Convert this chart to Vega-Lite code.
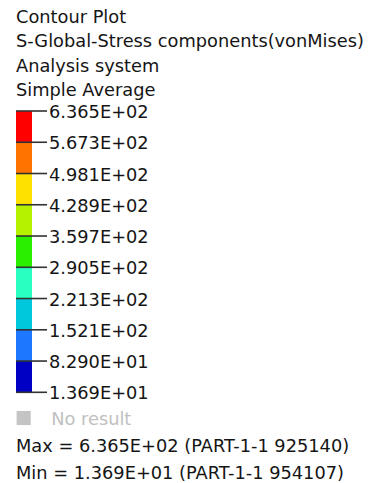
{
  "$schema": "https://vega.github.io/schema/vega-lite/v6.json",
  "background": "white",
  "padding": {"left": 15, "top": 8, "right": 0, "bottom": 0},
  "bounds": "flush",
  "spacing": 25,
  "title": {
    "text": ["Contour Plot", "S-Global-Stress components(vonMises)", "Analysis system", "Simple Average"],
    "anchor": "start",
    "frame": "group",
    "font": "DejaVu Sans",
    "fontSize": 17.8,
    "fontWeight": "normal",
    "lineHeight": 24.5,
    "color": "#151515",
    "baseline": "top",
    "offset": 4
  },
  "config": {"view": {"stroke": null}, "font": "DejaVu Sans"},
  "datasets": {
    "bands": [
      {"band": "b1", "lo": 13.69, "hi": 82.90},
      {"band": "b2", "lo": 82.90, "hi": 152.1},
      {"band": "b3", "lo": 152.1, "hi": 221.3},
      {"band": "b4", "lo": 221.3, "hi": 290.5},
      {"band": "b5", "lo": 290.5, "hi": 359.7},
      {"band": "b6", "lo": 359.7, "hi": 428.9},
      {"band": "b7", "lo": 428.9, "hi": 498.1},
      {"band": "b8", "lo": 498.1, "hi": 567.3},
      {"band": "b9", "lo": 567.3, "hi": 636.5}
    ],
    "levels": [
      {"v": 636.5, "label": "6.365E+02"},
      {"v": 567.3, "label": "5.673E+02"},
      {"v": 498.1, "label": "4.981E+02"},
      {"v": 428.9, "label": "4.289E+02"},
      {"v": 359.7, "label": "3.597E+02"},
      {"v": 290.5, "label": "2.905E+02"},
      {"v": 221.3, "label": "2.213E+02"},
      {"v": 152.1, "label": "1.521E+02"},
      {"v": 82.90, "label": "8.290E+01"},
      {"v": 13.69, "label": "1.369E+01"}
    ],
    "notes": [
      {"line": "No result", "kind": "nr"},
      {"line": "Max = 6.365E+02 (PART-1-1 925140)", "kind": "mm"},
      {"line": "Min = 1.369E+01 (PART-1-1 954107)", "kind": "mm"}
    ]
  },
  "vconcat": [
    {
      "width": 32,
      "height": 281.3,
      "layer": [
        {
          "data": {"name": "bands"},
          "mark": {"type": "rect"},
          "encoding": {
            "x": {"datum": 0, "type": "quantitative", "scale": {"domain": [0, 2], "nice": false, "zero": false}, "axis": null},
            "x2": {"datum": 1},
            "y": {"field": "hi", "type": "quantitative", "scale": {"domain": [13.69, 636.5], "nice": false, "zero": false}, "axis": null},
            "y2": {"field": "lo"},
            "color": {
              "field": "band", "type": "nominal", "legend": null,
              "scale": {
                "domain": ["b1", "b2", "b3", "b4", "b5", "b6", "b7", "b8", "b9"],
                "range": ["#0000C4", "#1E78FF", "#00C8DC", "#28FFC0", "#2AF000", "#B4F200", "#FFE100", "#FF7300", "#FF0000"]
              }
            }
          }
        },
        {
          "data": {"name": "levels"},
          "mark": {"type": "rule", "color": "#333333", "strokeWidth": 1.6},
          "encoding": {
            "x": {"datum": 0, "type": "quantitative"},
            "x2": {"datum": 1.94},
            "y": {"field": "v", "type": "quantitative"}
          }
        },
        {
          "data": {"name": "levels"},
          "mark": {"type": "text", "align": "left", "baseline": "middle", "dx": 1, "dy": 2, "fontSize": 17.8, "color": "#151515"},
          "encoding": {
            "x": {"datum": 2, "type": "quantitative"},
            "y": {"field": "v", "type": "quantitative"},
            "text": {"field": "label"}
          }
        }
      ]
    },
    {
      "width": 32,
      "height": 54,
      "data": {"name": "notes"},
      "layer": [
        {
          "transform": [{"filter": "datum.kind == 'nr'"}],
          "mark": {"type": "square", "size": 200, "opacity": 1, "color": "#c4c4c4"},
          "encoding": {
            "x": {"datum": 0.48, "type": "quantitative", "scale": {"domain": [0, 2], "nice": false, "zero": false}, "axis": null},
            "y": {"field": "line", "type": "ordinal", "sort": null, "scale": {"type": "point", "padding": 0}, "axis": null}
          }
        },
        {
          "transform": [{"filter": "datum.kind == 'nr'"}],
          "mark": {"type": "text", "align": "left", "baseline": "middle", "dy": 2, "fontSize": 17.8, "color": "#c0c0c0"},
          "encoding": {
            "x": {"datum": 2.2, "type": "quantitative"},
            "y": {"field": "line", "type": "ordinal", "sort": null},
            "text": {"field": "line"}
          }
        },
        {
          "transform": [{"filter": "datum.kind == 'mm'"}],
          "mark": {"type": "text", "align": "left", "baseline": "middle", "dy": 2, "fontSize": 17.8, "color": "#151515"},
          "encoding": {
            "x": {"datum": 0, "type": "quantitative"},
            "y": {"field": "line", "type": "ordinal", "sort": null},
            "text": {"field": "line"}
          }
        }
      ]
    }
  ]
}
